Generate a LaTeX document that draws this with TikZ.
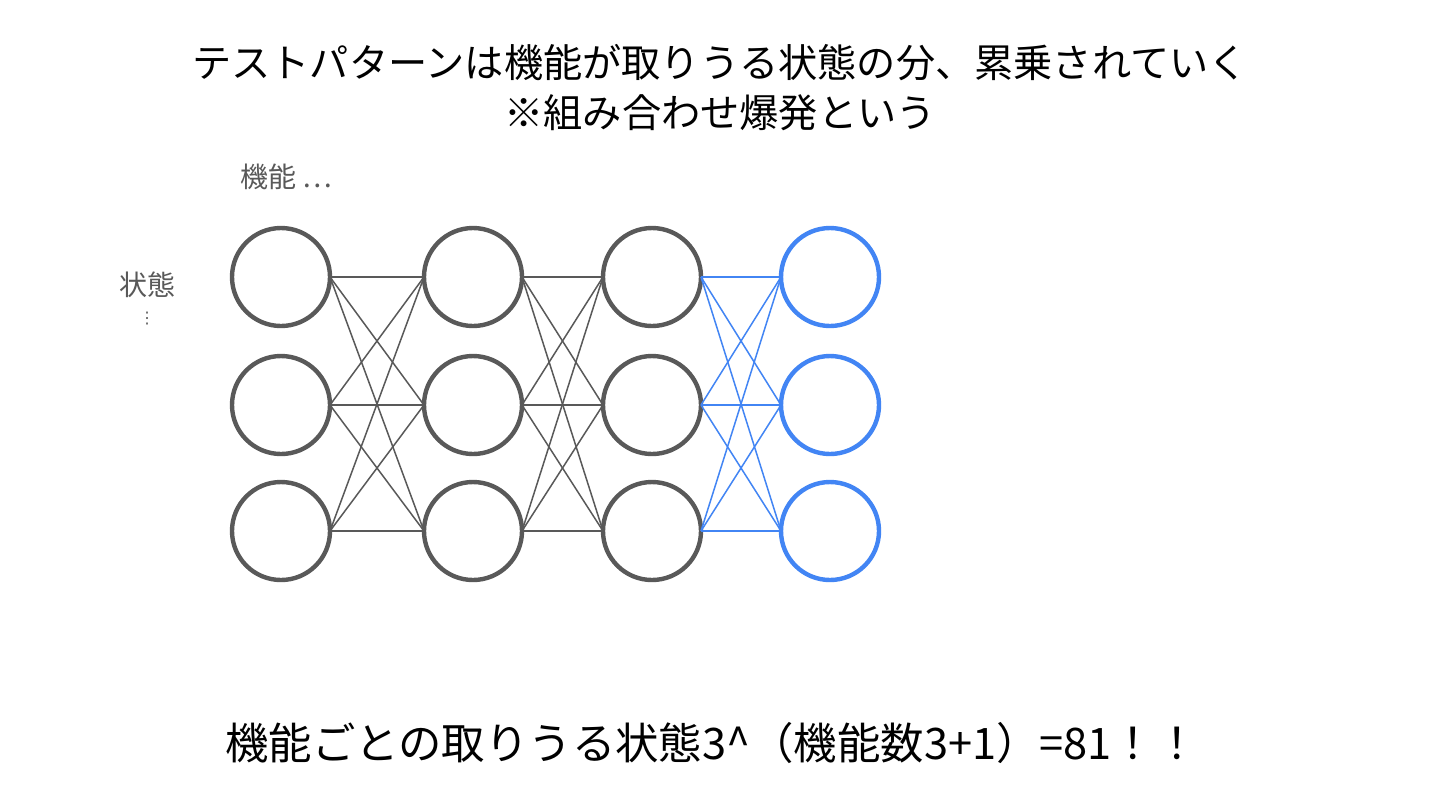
\documentclass[tikz,border=0pt]{standalone}
\usepackage{fontspec}
\setmainfont{Noto Sans CJK JP}
\newfontfamily\dejavu{DejaVu Sans}
\definecolor{dgray}{HTML}{595959}
\definecolor{gblue}{HTML}{4285F4}
\begin{document}
\begin{tikzpicture}[x=0.5pt,y=-0.5pt,
  st/.style={circle,draw=dgray,line width=2.2pt,minimum size=49pt,inner sep=0pt,outer sep=0pt},
  bst/.style={st,draw=gblue},
  ln/.style={draw=dgray,line width=0.75pt},
  bln/.style={draw=gblue,line width=0.75pt},
  lbl/.style={text=dgray,font=\fontsize{14pt}{16pt}\selectfont,inner sep=0pt}]
\useasboundingbox[fill=white] (0,0) rectangle (1440,810);
\node[font=\fontsize{19.6pt}{25pt}\selectfont,align=center,inner sep=0pt] (title) at (720,88) {テストパターンは機能が取りうる状態の分、累乗されていく\\※組み合わせ爆発という};
\node[lbl,anchor=west] (kino) at (240,177) {機能 …};
\node[lbl] (jotai) at (147,285) {状態};
\node[lbl,font=\dejavu\fontsize{8pt}{9pt}\selectfont] (vd) at (147,319) {⋮};
\foreach \c/\x in {1/281,2/473,3/652}{
  \foreach \r/\y in {1/277,2/405,3/531}{
    \node[st] (n\c\r) at (\x,\y) {};
  }
}
\foreach \r/\y in {1/277,2/405,3/531}{
  \node[bst] (n4\r) at (830,\y) {};
}
\foreach \a in {1,2,3}{
  \foreach \b in {1,2,3}{
    \draw[ln] (n1\a.east) -- (n2\b.west);
    \draw[ln] (n2\a.east) -- (n3\b.west);
    \draw[bln] (n3\a.east) -- (n4\b.west);
  }
}
\node[font=\fontsize{21.7pt}{26pt}\selectfont,inner sep=0pt] (formula) at (712,743) {機能ごとの取りうる状態3\^{}（機能数3+1）=81！！};
\end{tikzpicture}
\end{document}
